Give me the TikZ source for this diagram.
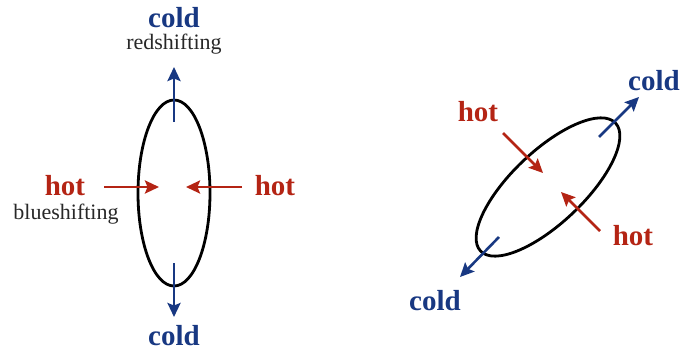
\documentclass[tikz,border=0pt]{standalone}
\usepackage{fontspec}
\setmainfont{Liberation Serif}
\usetikzlibrary{arrows.meta}
\definecolor{coldblue}{RGB}{24,56,130}
\definecolor{hotred}{RGB}{180,36,20}
\definecolor{labgray}{RGB}{40,40,40}
\begin{document}
\begin{tikzpicture}[x=1pt,y=-1pt,
  ring/.style={draw=black,line width=2.8pt},
  coldarrow/.style={draw=coldblue,line width=2.6pt,-{Stealth[length=14pt,width=13pt,inset=2.5pt]}},
  hotarrow/.style={draw=hotred,line width=2.6pt,-{Stealth[length=14pt,width=13pt,inset=2.5pt]}},
  coldlab/.style={text=coldblue,font=\fontsize{29}{32}\selectfont\bfseries,inner sep=0pt},
  hotlab/.style={text=hotred,font=\fontsize{29}{32}\selectfont\bfseries,inner sep=0pt},
  shiftlab/.style={text=labgray,font=\fontsize{22}{25}\selectfont,inner sep=0pt}]
\useasboundingbox (0,0) rectangle (685,354);
% left ellipse
\draw[ring] (174,193) ellipse [x radius=36pt, y radius=93pt];
\coordinate (ta) at (174,122); \coordinate (tb) at (174,67);
\coordinate (ba) at (174,263); \coordinate (bb) at (174,317);
\coordinate (la) at (104,187); \coordinate (lb) at (159,187);
\coordinate (ra) at (242,187); \coordinate (rb) at (186,187);
\draw[coldarrow] (ta) -- (tb);
\draw[coldarrow] (ba) -- (bb);
\draw[hotarrow] (la) -- (lb);
\draw[hotarrow] (ra) -- (rb);
\node[coldlab] (c1) at (174,18) {cold};
\node[shiftlab] (rs) at (174,44) {redshifting};
\node[hotlab] (h1) at (65,186) {hot};
\node[shiftlab] (bs) at (66,214) {blueshifting};
\node[hotlab] (h2) at (275,186) {hot};
\node[coldlab] (c2) at (174,336) {cold};
% right ellipse
\draw[ring,rotate around={43.5:(548,187)}] (548,187) ellipse [x radius=93pt, y radius=36pt];
\coordinate (ua) at (599,137); \coordinate (ub) at (639,97);
\coordinate (da) at (499,237); \coordinate (db) at (460,277);
\coordinate (pa) at (503,133); \coordinate (pb) at (543,173);
\coordinate (qa) at (600,231); \coordinate (qb) at (561,192);
\draw[coldarrow] (ua) -- (ub);
\draw[coldarrow] (da) -- (db);
\draw[hotarrow] (pa) -- (pb);
\draw[hotarrow] (qa) -- (qb);
\node[coldlab] (c3) at (654,81) {cold};
\node[hotlab] (h3) at (478,112) {hot};
\node[hotlab] (h4) at (633,236) {hot};
\node[coldlab] (c4) at (435,301) {cold};
\end{tikzpicture}
\end{document}
